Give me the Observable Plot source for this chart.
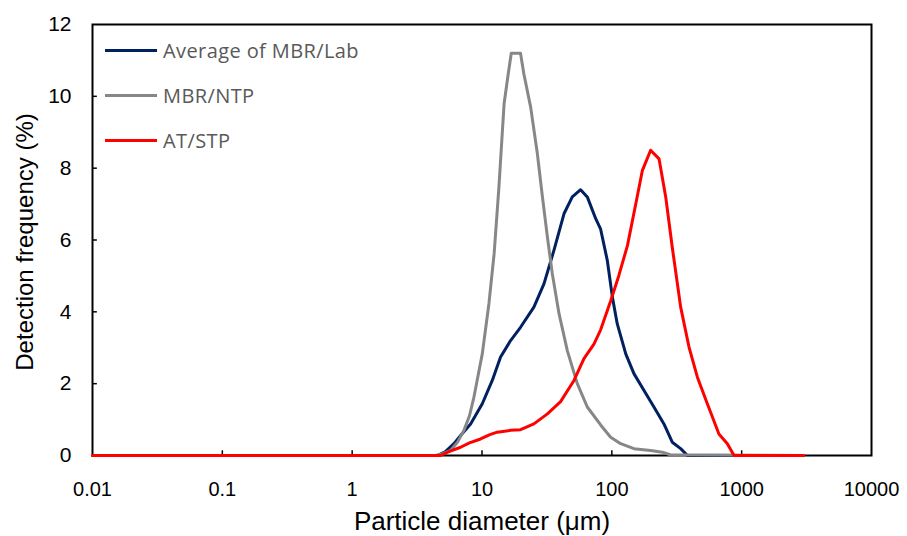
<!DOCTYPE html>
<html><head><meta charset="utf-8">
<script src="https://cdn.jsdelivr.net/npm/d3@7"></script>
<script src="https://cdn.jsdelivr.net/npm/@observablehq/plot@0.6"></script>
<style>
body{margin:0;background:#fff;}
#wrap{position:relative;width:907px;height:536px;background:#fff;}
.legend{position:absolute;left:105px;top:27.5px;font-family:"Open Sans",sans-serif;font-size:20px;letter-spacing:0.4px;color:#595959;}
.item{display:flex;align-items:center;height:45px;}
.sw{width:52px;height:3px;margin-right:6px;}
</style>
</head><body>
<div id="wrap"><div class="legend" id="legend"></div></div>
<script>
const seriesNames = ["Average of MBR/Lab", "MBR/NTP", "AT/STP"];
const seriesColors = ["#002060", "#878787", "#ff0000"];

const sizeBlue = [0.01, 4.5, 5.2, 6.08, 7.0, 8.17, 10.05, 12.0, 13.9, 16.6, 19.8, 25.1, 30.0, 35.8, 42.8, 49.6, 57.5, 64.7, 75, 82, 92.3, 101, 110, 128, 148, 177, 211, 252, 292, 339, 382, 3000];
const freqBlue = [0, 0, 0.1, 0.33, 0.6, 0.88, 1.44, 2.09, 2.74, 3.2, 3.57, 4.13, 4.78, 5.71, 6.73, 7.2, 7.4, 7.2, 6.6, 6.3, 5.43, 4.41, 3.67, 2.83, 2.28, 1.81, 1.35, 0.88, 0.37, 0.19, 0, 0];

const sizeGray = [0.01, 4.4, 5.0, 5.73, 6.5, 7.26, 8.0, 8.66, 10.05, 11.3, 12.4, 13.5, 14.8, 15.8, 16.8, 19.8, 21.0, 23.7, 26.7, 29.2, 31.9, 34.8, 39.2, 45.4, 54.2, 64.7, 82, 97.9, 117, 148, 199, 245, 282, 3000];
const freqGray = [0, 0, 0.05, 0.14, 0.38, 0.7, 1.1, 1.62, 2.83, 4.22, 5.62, 7.47, 9.8, 10.54, 11.2, 11.2, 10.63, 9.7, 8.4, 7.2, 6.08, 5.06, 3.95, 2.92, 2.0, 1.35, 0.85, 0.51, 0.33, 0.19, 0.14, 0.09, 0.02, 0];

const sizeRed = [0.01, 4.8, 5.5, 6.84, 8, 9.75, 11.5, 13.1, 16.6, 19.8, 25.1, 31.9, 40.3, 51.1, 61, 72.8, 82, 97.9, 113, 132, 153, 172, 199, 231, 260, 292, 339, 393, 456, 544, 668, 776, 873, 3000];
const freqRed = [0, 0, 0.1, 0.23, 0.35, 0.46, 0.58, 0.65, 0.7, 0.72, 0.88, 1.16, 1.5, 2.09, 2.7, 3.1, 3.5, 4.3, 5.0, 5.85, 7.01, 7.94, 8.5, 8.26, 7.2, 5.8, 4.13, 3.02, 2.18, 1.44, 0.6, 0.33, 0, 0];

const xTicks = [0.01, 0.1, 1, 10, 100, 1000, 10000];
const xTickLabels = ["0.01", "0.1", "1", "10", "100", "1000", "10000"];
const yTicks = [0, 2, 4, 6, 8, 10, 12];
const xTitle = "Particle diameter (μm)";
const yTitle = "Detection frequency (%)";

const sizes = [sizeBlue, sizeGray, sizeRed];
const freqs = [freqBlue, freqGray, freqRed];
const rows = seriesNames.map((name, i) => sizes[i].map((s, j) => ({series: name, x: s, y: freqs[i][j]})));

const chart = Plot.plot({
  width: 907, height: 536,
  marginLeft: 92, marginRight: 36, marginTop: 24, marginBottom: 81,
  x: {type: "log", domain: [0.01, 10000]},
  y: {domain: [0, 12]},
  style: {fontFamily: "'Liberation Sans', Arial, sans-serif", background: "#fff", color: "#000", overflow: "visible"},
  marks: [
    Plot.axisX(xTicks, {tickSize: 0, tickPadding: 26, fontSize: 20, tickFormat: d => xTickLabels[xTicks.indexOf(d)], label: null}),
    Plot.axisY(yTicks, {tickSize: 0, tickPadding: 21, fontSize: 21, label: null}),
    Plot.ruleX(xTicks.slice(1, -1), {x: d => d, y1: 0, y2: 0.13, stroke: "#000", strokeWidth: 1.5}),
    Plot.ruleY(yTicks.slice(1, -1), {y: d => d, x1: 0.01, x2: 0.0109, stroke: "#000", strokeWidth: 1.5}),
    Plot.frame({stroke: "#000", strokeWidth: 2}),
    ...rows.map((r, i) => Plot.line(r, {x: "x", y: "y", stroke: seriesColors[i], strokeWidth: 3})),
    Plot.text([xTitle], {frameAnchor: "bottom", lineAnchor: "middle", textAnchor: "middle", dy: 66, fontSize: 26, fill: "#000"}),
    Plot.text([yTitle], {frameAnchor: "left", textAnchor: "middle", lineAnchor: "middle", rotate: -90, dx: -67, dy: 2, fontSize: 24, fill: "#000"})
  ]
});
document.getElementById("wrap").prepend(chart);

const legend = document.getElementById("legend");
seriesNames.forEach((n, i) => {
  const item = document.createElement("div");
  item.className = "item";
  const sw = document.createElement("div");
  sw.className = "sw";
  sw.style.background = seriesColors[i];
  const t = document.createElement("span");
  t.textContent = n;
  item.append(sw, t);
  legend.append(item);
});
</script>
</body></html>
